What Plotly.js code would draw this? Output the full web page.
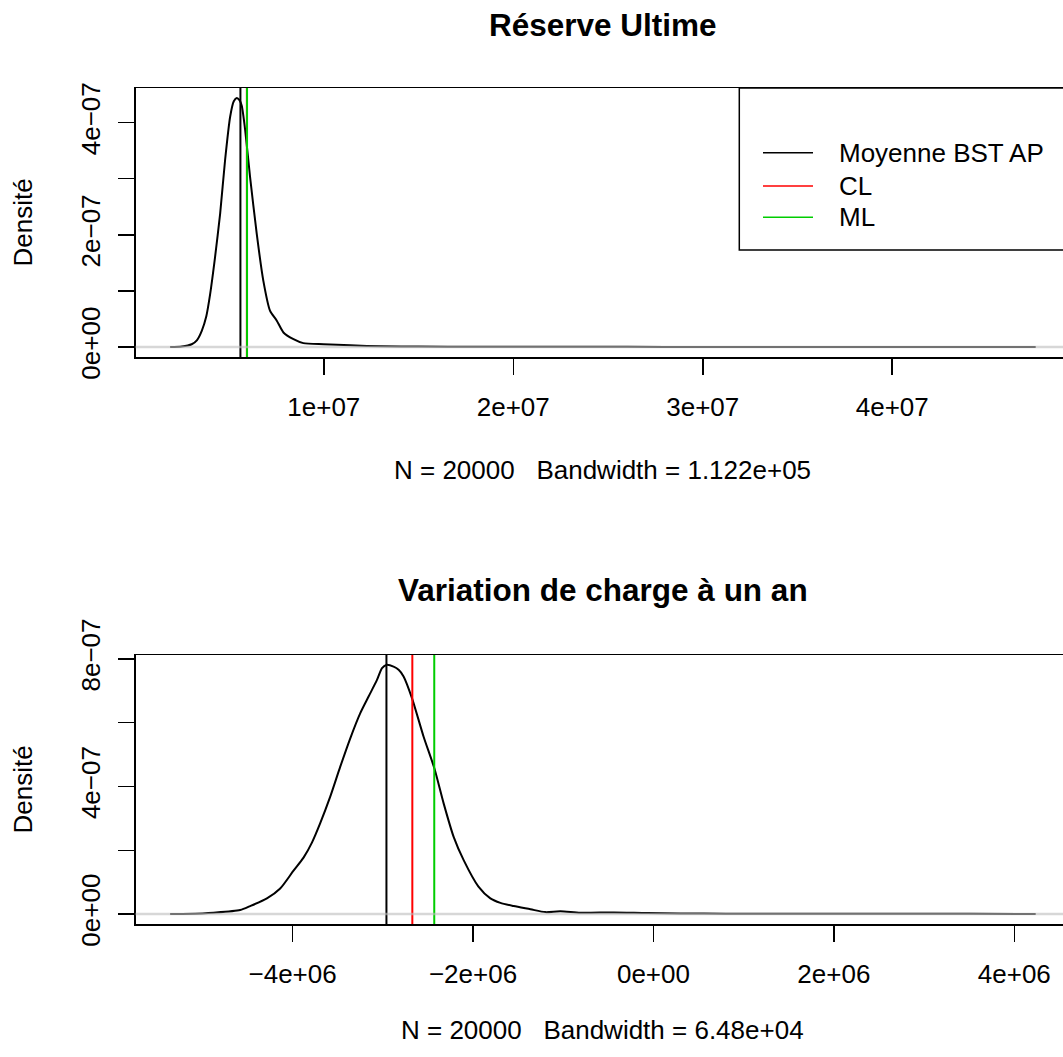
<!DOCTYPE html>
<html>
<head>
<meta charset="utf-8">
<script src="https://cdn.plot.ly/plotly-3.0.1.min.js"></script>
<style>
  html, body { margin: 0; padding: 0; overflow: hidden; background: #ffffff; }
  #plot { width: 1080px; height: 1057px; }
</style>
</head>
<body>
<div id="plot"></div>
<script>
// Kernel density of the ultimate reserve (N = 20000)
const reserveX = [1.89e6, 2.5e6, 3.03e6, 3.3e6, 3.56e6, 3.8e6, 4.0e6, 4.26e6, 4.53e6, 4.79e6,
  5.06e6, 5.25e6, 5.41e6, 5.55e6, 5.67e6, 5.85e6, 6.11e6, 6.46e6, 6.81e6, 7.16e6,
  7.52e6, 7.87e6, 8.40e6, 8.92e6, 9.98e6, 11.39e6, 13.14e6, 15e6, 18e6, 22e6,
  26e6, 30e6, 35e6, 40e6, 45e6, 47.57e6];
const reserveDensity = [0, 1e-9, 5e-9, 1.2e-8, 2.9e-8, 5.5e-8, 9.4e-8, 1.6e-7, 2.38e-7, 3.33e-7,
  4.11e-7, 4.38e-7, 4.44e-7, 4.40e-7, 4.30e-7, 3.87e-7, 3.03e-7, 2.02e-7, 1.18e-7, 6.5e-8,
  4.7e-8, 2.6e-8, 1.4e-8, 7e-9, 5e-9, 3e-9, 1.3e-9, 8e-10, 5e-10, 4e-10,
  3e-10, 2e-10, 2e-10, 1.5e-10, 1e-10, 5e-11];
// Reference values: Moyenne BST AP, CL, ML
const reserveRefs = [5.6e6, 5.94e6, 5.95e6];

// Kernel density of the one-year claims charge variation (N = 20000)
const variationX = [-5.358e6, -5.0e6, -4.877e6, -4.581e6, -4.470e6, -4.285e6, -4.138e6, -3.990e6,
  -3.879e6, -3.786e6, -3.694e6, -3.583e6, -3.472e6, -3.361e6, -3.250e6, -3.158e6,
  -3.065e6, -3.009e6, -2.962e6, -2.881e6, -2.825e6, -2.770e6, -2.677e6, -2.548e6,
  -2.429e6, -2.326e6, -2.215e6, -2.104e6, -1.94e6, -1.808e6, -1.697e6, -1.550e6,
  -1.364e6, -1.198e6, -1.032e6, -0.810e6, -0.440e6, -0.070e6, 0.30e6, 0.8e6,
  1.5e6, 2.5e6, 3.5e6, 4.237e6];
const variationDensity = [0, 2e-9, 4e-9, 1.25e-8, 2.5e-8, 4.9e-8, 8.0e-8, 1.36e-7,
  1.77e-7, 2.24e-7, 2.85e-7, 3.68e-7, 4.62e-7, 5.51e-7, 6.30e-7, 6.82e-7,
  7.34e-7, 7.71e-7, 7.81e-7, 7.76e-7, 7.66e-7, 7.45e-7, 6.77e-7, 5.56e-7,
  4.57e-7, 3.47e-7, 2.42e-7, 1.69e-7, 8.6e-8, 4.9e-8, 3.5e-8, 2.5e-8,
  1.5e-8, 6e-9, 9e-9, 4e-9, 5e-9, 3e-9, 2e-9, 1.2e-9,
  1e-9, 8e-10, 6e-10, 3e-10];
const variationRefs = [-2.96e6, -2.673e6, -2.43e6];

// Legend and reference line styles
const refNames = ["Moyenne BST AP", "CL", "ML"];
const refColors = ["#000000", "#ff0000", "#00cd00"];

// Tick labels
const reserveXTicks = [1e7, 2e7, 3e7, 4e7];
const reserveXLabels = ["1e+07", "2e+07", "3e+07", "4e+07"];
const reserveYTicks = [0, 1e-7, 2e-7, 3e-7, 4e-7];
const reserveYLabels = ["0e+00", "", "2e\u221207", "", "4e\u221207"];
const variationXTicks = [-4e6, -2e6, 0, 2e6, 4e6];
const variationXLabels = ["\u22124e+06", "\u22122e+06", "0e+00", "2e+06", "4e+06"];
const variationYTicks = [0, 2e-7, 4e-7, 6e-7, 8e-7];
const variationYLabels = ["0e+00", "", "4e\u221207", "", "8e\u221207"];

const titles = ["R\u00e9serve Ultime", "Variation de charge \u00e0 un an"];
const subtitles = ["N = 20000\u00a0\u00a0\u00a0Bandwidth = 1.122e+05",
                   "N = 20000\u00a0\u00a0\u00a0Bandwidth = 6.48e+04"];
const yTitle = "Densit\u00e9";

// ---- page geometry (pixels) ----
const W = 1080, H = 1057;
const plotLeft = 135.5, plotRight = 1070.3;
const topBox = [88, 357], bottomBox = [655, 924];
const FONT = "Liberation Sans, Arial, Helvetica, sans-serif";
const px = v => v / W;
const py = v => 1 - v / H;

// R-like axis limits: data range padded by 4 %
function padRange(arr) {
  const lo = Math.min(...arr), hi = Math.max(...arr);
  const d = (hi - lo) * 0.04;
  return [lo - d, hi + d];
}

function xAxis(tickvals, ticktext, range, anchor) {
  return {
    domain: [px(plotLeft), px(plotRight)], range: range, anchor: anchor,
    tickmode: "array", tickvals: tickvals, ticktext: ticktext,
    ticks: "outside", ticklen: 16, tickwidth: 1.5, tickcolor: "#000",
    ticklabelstandoff: 10,
    showline: true, linecolor: "#000", linewidth: 1.5, mirror: true,
    showgrid: false, zeroline: false,
    tickfont: { family: FONT, size: 26, color: "#000" }
  };
}
function yAxis(tickvals, ticktext, range, box, anchor) {
  return {
    domain: [py(box[1]), py(box[0])], range: range, anchor: anchor,
    tickmode: "array", tickvals: tickvals, ticktext: ticktext, tickangle: -90,
    ticks: "outside", ticklen: 16, tickwidth: 1.5, tickcolor: "#000",
    ticklabelstandoff: 8,
    showline: true, linecolor: "#000", linewidth: 1.5, mirror: true,
    showgrid: false, zeroline: false,
    tickfont: { family: FONT, size: 26, color: "#000" }
  };
}

const traces = [
  { x: reserveX, y: reserveDensity, xaxis: "x", yaxis: "y", type: "scatter", mode: "lines",
    line: { color: "#000", width: 2, shape: "spline", smoothing: 0.6 }, showlegend: false, hoverinfo: "skip" },
  { x: variationX, y: variationDensity, xaxis: "x2", yaxis: "y2", type: "scatter", mode: "lines",
    line: { color: "#000", width: 2, shape: "spline", smoothing: 0.7 }, showlegend: false, hoverinfo: "skip" }
];

const shapes = [];
// reference vertical lines spanning the plot region
reserveRefs.forEach((v, i) => shapes.push({
  type: "line", xref: "x", yref: "y domain", x0: v, x1: v, y0: 0, y1: 1,
  line: { color: refColors[i], width: 2 }
}));
variationRefs.forEach((v, i) => shapes.push({
  type: "line", xref: "x2", yref: "y2 domain", x0: v, x1: v, y0: 0, y1: 1,
  line: { color: refColors[i], width: 2 }
}));
// thin gray zero lines drawn over the curves
shapes.push({ type: "line", xref: "x domain", yref: "y", x0: 0, x1: 1, y0: 0, y1: 0,
  line: { color: "#bebebe", width: 2.6 }, opacity: 0.6 });
shapes.push({ type: "line", xref: "x2 domain", yref: "y2", x0: 0, x1: 1, y0: 0, y1: 0,
  line: { color: "#bebebe", width: 2.6 }, opacity: 0.6 });

// legend box (top right of the first panel)
const legLeft = 739.3, legTop = 88, legBottom = 250;
shapes.push({ type: "rect", xref: "paper", yref: "paper",
  x0: px(legLeft), x1: px(plotRight), y0: py(legBottom), y1: py(legTop),
  line: { color: "#000", width: 1.5 }, fillcolor: "#ffffff" });
const legRows = [152.7, 186, 217.3];
const annotations = [];
refNames.forEach((name, i) => {
  shapes.push({ type: "line", xref: "paper", yref: "paper",
    x0: px(763), x1: px(813), y0: py(legRows[i]), y1: py(legRows[i]),
    line: { color: refColors[i], width: 1.5 } });
  annotations.push({ xref: "paper", yref: "paper", x: px(837), y: py(legRows[i]),
    xanchor: "left", yanchor: "middle", text: name, showarrow: false,
    font: { family: FONT, size: 26, color: "#000" } });
});

// titles, x-axis captions and y-axis titles
[["x", 25, 470, topBox], ["x2", 590, 1030, bottomBox]].forEach((p, i) => {
  annotations.push({ xref: p[0] + " domain", yref: "paper", x: 0.5, y: py(p[1]),
    xanchor: "center", yanchor: "middle", text: "<b>" + titles[i] + "</b>", showarrow: false,
    font: { family: FONT, size: 31.5, color: "#000" } });
  annotations.push({ xref: p[0] + " domain", yref: "paper", x: 0.5, y: py(p[2]),
    xanchor: "center", yanchor: "middle", text: subtitles[i], showarrow: false,
    font: { family: FONT, size: 26, color: "#000" } });
  annotations.push({ xref: "paper", yref: "paper", x: px(22), y: py((p[3][0] + p[3][1]) / 2),
    xanchor: "center", yanchor: "middle", text: yTitle, textangle: -90, showarrow: false,
    font: { family: FONT, size: 26, color: "#000" } });
});

// y limits as in R density plots: [0, max] padded by 4 %
const reserveYRange = padRange([0, ...reserveDensity]);
const variationYRange = padRange([0, ...variationDensity]);
const layout = {
  width: W, height: H,
  margin: { l: 0, r: 0, t: 0, b: 0 },
  paper_bgcolor: "#ffffff", plot_bgcolor: "#ffffff",
  showlegend: false,
  xaxis: xAxis(reserveXTicks, reserveXLabels, padRange(reserveX), "y"),
  yaxis: yAxis(reserveYTicks, reserveYLabels, reserveYRange, topBox, "x"),
  xaxis2: xAxis(variationXTicks, variationXLabels, padRange(variationX), "y2"),
  yaxis2: yAxis(variationYTicks, variationYLabels, variationYRange, bottomBox, "x2"),
  shapes: shapes,
  annotations: annotations
};

Plotly.newPlot("plot", traces, layout, { staticPlot: true, displayModeBar: false });
</script>
</body>
</html>
